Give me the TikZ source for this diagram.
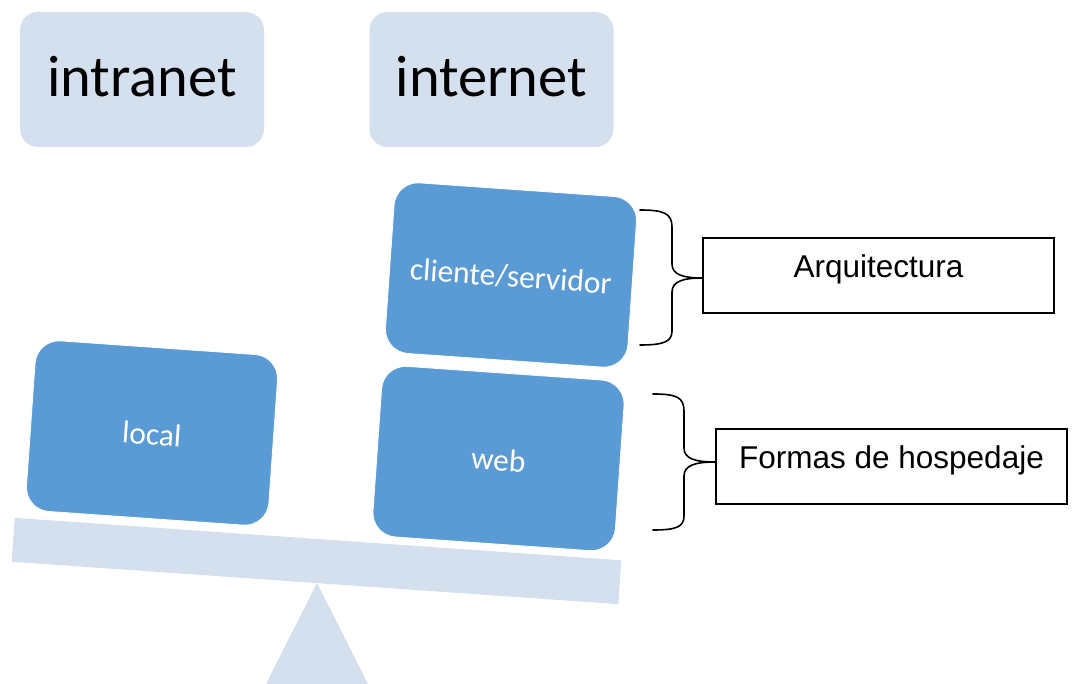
\documentclass[tikz,border=0pt]{standalone}
\usepackage{fontspec}
\setmainfont{Carlito}
\newfontfamily\arialfont{Liberation Sans}
\definecolor{tileblue}{RGB}{91,155,213}
\definecolor{paleblue}{RGB}{213,224,238}
\begin{document}
\begin{tikzpicture}[x=1pt,y=-1pt,
  topbox/.style={fill=paleblue, draw=none, rounded corners=18pt,
    minimum width=244pt, minimum height=135pt, inner sep=0pt,
    font=\fontsize{58.5}{61}\selectfont, text height=35pt, text depth=0pt},
  tile/.style={fill=tileblue, draw=white, line width=0.8pt, rounded corners=24pt,
    minimum width=243pt, minimum height=171pt, rotate=-4, inner sep=0pt,
    text=white, font=\fontsize{31.5}{34}\selectfont, text height=24pt, text depth=0pt},
  beam/.style={fill=paleblue, draw=none, minimum width=608pt, minimum height=44pt,
    rotate=-4, inner sep=0pt},
  labelbox/.style={draw=black, line width=1.5pt, minimum width=351pt,
    minimum height=75pt, inner sep=0pt,
    font=\arialfont\fontsize{31.5}{34}\selectfont, text height=4pt, text depth=0pt},
  brace/.style={draw=black, line width=1.6pt, line join=round, line cap=round}]
\useasboundingbox (0,0) rectangle (1073,684);

% headers
\node[topbox] (intranet) at (142,79.5) {intranet};
\node[topbox] (internet) at (491.5,79.5) {internet};

% seesaw: pivot and beam
\coordinate (apex) at (317,583);
\coordinate (footL) at (266,684);
\coordinate (footR) at (368,684);
\fill[paleblue] (apex) -- (footL) -- (footR) -- cycle;
\node[beam] (bar) at (316.5,561) {};

% weights on the beam
\node[tile] (local) at (152,433) {local};
\node[tile] (web) at (498.5,458.5) {web};
\node[tile] (cs) at (511,275) {cliente/servidor};

% annotation boxes
\node[labelbox] (arq) at (878.5,275.5) {Arquitectura};
\node[labelbox] (formas) at (891.5,466.5) {Formas de hospedaje};

% braces
\coordinate (b1top) at (640,210);
\coordinate (b1bot) at (640,345);
\draw[brace] (b1top) .. controls (663,210) and (672,213) .. (672,227)
  -- (672,264) .. controls (672,275) and (684,278) .. ([yshift=-2.5pt]arq.west)
  .. controls (684,278) and (672,281) .. (672,292)
  -- (672,331) .. controls (672,342) and (663,345) .. (b1bot);

\coordinate (b2top) at (653,394);
\coordinate (b2bot) at (653,530);
\draw[brace] (b2top) .. controls (676,394) and (684,397) .. (684,411)
  -- (684,448) .. controls (684,459) and (696,462) .. ([yshift=4.5pt]formas.west)
  .. controls (696,462) and (684,465) .. (684,476)
  -- (684,516) .. controls (684,527) and (676,530) .. (b2bot);
\end{tikzpicture}
\end{document}
